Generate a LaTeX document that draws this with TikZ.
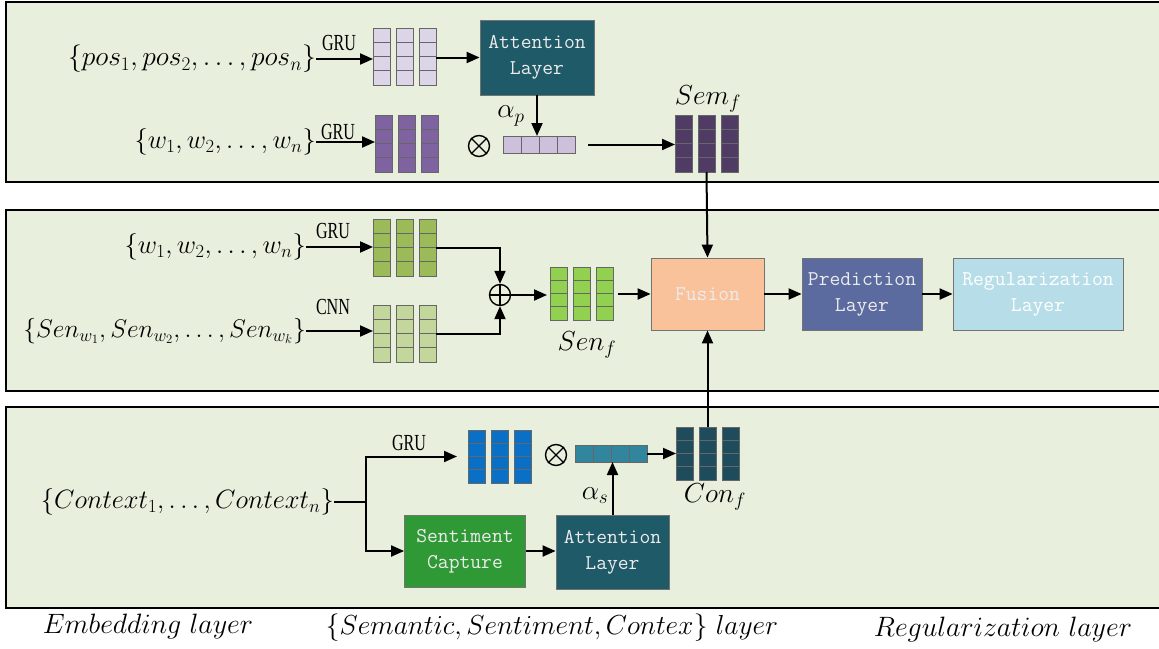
\RequirePackage{fix-cm}
\documentclass[tikz,border=0pt]{standalone}
\usepackage{fontspec}
\usepackage{graphicx}
\usetikzlibrary{arrows.meta}
\newfontfamily\lblfont{Liberation Serif}
\definecolor{panelfill}{HTML}{E8EFDD}
\definecolor{lpurple}{HTML}{DCD5E8}
\definecolor{mpurple}{HTML}{7F63A1}
\definecolor{apurple}{HTML}{CCC0DD}
\definecolor{dpurple}{HTML}{4F3B63}
\definecolor{attteal}{HTML}{1F5A68}
\definecolor{gruG}{HTML}{9BBB59}
\definecolor{cnnG}{HTML}{C3D69B}
\definecolor{senG}{HTML}{92D050}
\definecolor{fusionC}{HTML}{F9C29B}
\definecolor{predC}{HTML}{5B6B9F}
\definecolor{regC}{HTML}{B7DEE8}
\definecolor{scC}{HTML}{2F9A35}
\definecolor{blueC}{HTML}{0A70C6}
\definecolor{tvecC}{HTML}{31859C}
\definecolor{dteal}{HTML}{1E4C5D}
\definecolor{boxtext}{HTML}{ECECEC}
\tikzset{
  panel/.style={draw=black, line width=2.2pt, fill=panelfill},
  cell/.style={draw=black!60, line width=0.8pt},
  arr/.style={line width=2pt, -{Triangle[length=13pt,width=11pt]}},
  ln/.style={line width=2pt},
  box/.style={draw=black!55, line width=0.8pt, align=center, text=boxtext,
    font=\ttfamily\fontsize{21}{26}\selectfont, inner sep=0pt},
  mlbl/.style={inner sep=0pt, font=\fontsize{27.5}{30}\selectfont},
  wlbl/.style={inner sep=0pt, font=\fontsize{26.5}{30}\selectfont},
  slbl/.style={inner sep=0pt, font=\fontsize{25.5}{30}\selectfont},
  blbl/.style={inner sep=0pt, font=\fontsize{28}{30}\selectfont},
  grulbl/.style={inner sep=0pt, font=\lblfont\fontsize{23}{24}\selectfont},
  oper/.style={circle, draw=black, line width=1.4pt, minimum size=21pt, inner sep=0pt},
}
\newcommand\vblock[5]{%
  \foreach \c in {0,1,2}{\foreach \r in {0,1,2,3}{%
    \draw[cell,fill=#5] ({#2+\c*23},{#3+\r*#4/4}) rectangle ++(17,{#4/4});}}
  \node[inner sep=0pt,outer sep=0pt,minimum width=63pt,minimum height=#4pt,anchor=north west] (#1) at (#2,#3) {};
}
\newcommand\hblock[4]{%
  \foreach \c in {0,1,2,3}{\draw[cell,fill=#4] ({#2+\c*18},#3) rectangle ++(18,17);}
  \node[inner sep=0pt,outer sep=0pt,minimum width=72pt,minimum height=17pt,anchor=north west] (#1) at (#2,#3) {};
}
\newcommand\grul[1]{\scalebox{0.7}[1]{#1}}
\begin{document}
\begin{tikzpicture}[x=1pt,y=-1pt]
\useasboundingbox (0,0) rectangle (1159,648);
\clip (0,0) rectangle (1159,648);
\fill[white] (0,0) rectangle (1159,648);
% panels
\draw[panel] (6,2) rectangle (1175,182);
\draw[panel] (6,210) rectangle (1175,391);
\draw[panel] (6,407) rectangle (1175,608);

% ---------- panel 1 ----------
\node[mlbl, anchor=east] (pos) at (316,59) {$\{pos_1,pos_2,\ldots,pos_n\}$};
\node[wlbl, anchor=east] (w1) at (316,142) {$\{w_1,w_2,\ldots,w_n\}$};
\vblock{posblk}{373}{28}{57}{lpurple}
\vblock{wblk}{375}{115}{57}{mpurple}
\node[grulbl] (gru1) at (339,43) {\grul{GRU}};
\node[grulbl] (gru2) at (338,132) {\grul{GRU}};
\draw[arr] (pos.east) -- (pos.east -| posblk.west);
\draw[arr] (w1.east) -- (w1.east -| wblk.west);
\node[box, fill=attteal, minimum width=114pt, minimum height=75pt] (att1) at (537,57.5) {Attention\\Layer};
\draw[arr] (posblk.east |- att1.west) -- (att1.west);
\hblock{avec}{503}{136}{apurple}
\draw[arr] (att1.south) -- (att1.south |- avec.north);
\node[mlbl] (alp) at (511,116) {$\alpha_p$};
\node[oper] (ot1) at (479,146) {};
\draw[line width=1.3pt] (ot1.north east) -- (ot1.south west) (ot1.north west) -- (ot1.south east);
\vblock{semf}{675}{115}{57}{dpurple}
\node[mlbl] (semlbl) at (708,99) {$Sem_f$};
\draw[arr, shorten <=13pt] (avec.east) -- (avec.east -| semf.west);

% ---------- panel 2 ----------
\node[wlbl, anchor=east] (w2) at (306,247) {$\{w_1,w_2,\ldots,w_n\}$};
\node[slbl, anchor=east] (sen) at (306,331) {$\left\{Sen_{w_1},Sen_{w_2},\ldots,Sen_{w_k}\right\}$};
\vblock{gblk}{373}{219}{57}{gruG}
\vblock{lgblk}{373}{305}{57}{cnnG}
\node[grulbl] (gru3) at (333,231) {\grul{GRU}};
\node[grulbl] (cnn) at (333,307) {\grul{CNN}};
\draw[arr] (w2.east) -- (w2.east -| gblk.west);
\draw[arr] (sen.east) -- (sen.east -| lgblk.west);
\node[oper] (op) at (500,295) {};
\draw[line width=1.3pt] (op.north) -- (op.south) (op.west) -- (op.east);
\draw[arr] (gblk.east) -| (op.north);
\draw[arr] (lgblk.east) -| (op.south);
\vblock{senf}{550}{267}{53}{senG}
\node[mlbl] (senlbl) at (587,345) {$Sen_f$};
\draw[arr, shorten >=3pt] (op.east) -- (op.east -| senf.west);
\node[box, fill=fusionC, minimum width=113pt, minimum height=72pt] (fusion) at (707.5,294) {Fusion};
\draw[arr, shorten <=5pt] (senf.east |- fusion.west) -- (fusion.west);
\node[box, fill=predC, minimum width=120pt, minimum height=72pt] (pred) at (862,294) {Prediction\\Layer};
\node[box, fill=regC, text=white, minimum width=170pt, minimum height=72pt] (reg) at (1038,294) {Regularization\\Layer};
\draw[arr] (fusion.east) -- (pred.west);
\draw[arr] (pred.east) -- (reg.west);
\draw[arr] (semf.south) -- (fusion.north);

% ---------- panel 3 ----------
\node[wlbl, anchor=east] (ctx) at (334,502) {$\{Context_1,\ldots,Context_n\}$};
\coordinate (split) at (366,502);
\vblock{bblk}{468}{430}{53}{blueC}
\node[box, fill=scC, minimum width=121pt, minimum height=72pt] (sc) at (465,551) {Sentiment\\Capture};
\node[box, fill=attteal, minimum width=113pt, minimum height=74pt] (att2) at (612.5,552) {Attention\\Layer};
\draw[ln] (ctx.east) -- (split);
\draw[arr, shorten >=11pt] (split) |- (bblk.west);
\draw[arr] (split) |- (sc.west);
\node[grulbl] (gru4) at (409,443) {\grul{GRU}};
\draw[arr] (sc.east) -- (sc.east -| att2.west);
\node[oper] (ot2) at (556,455) {};
\draw[line width=1.3pt] (ot2.north east) -- (ot2.south west) (ot2.north west) -- (ot2.south east);
\hblock{tvec}{575}{445}{tvecC}
\draw[arr] (att2.north) -- (att2.north |- tvec.south);
\node[mlbl] (als) at (595,496) {$\alpha_s$};
\vblock{conf}{676}{427}{53}{dteal}
\node[mlbl] (conlbl) at (715,497) {$Con_f$};
\draw[arr] (tvec.east) -- (tvec.east -| conf.west);
\draw[arr] (conf.north) -- (fusion.south);

% ---------- bottom labels ----------
\node[blbl] (l1) at (148,626) {$Embedding\ layer$};
\node[mlbl] (l2) at (552,628) {$\{Semantic,Sentiment,Contex\}\ layer$};
\node[blbl] (l3) at (1003,629) {$Regularization\ layer$};
\end{tikzpicture}
\end{document}
